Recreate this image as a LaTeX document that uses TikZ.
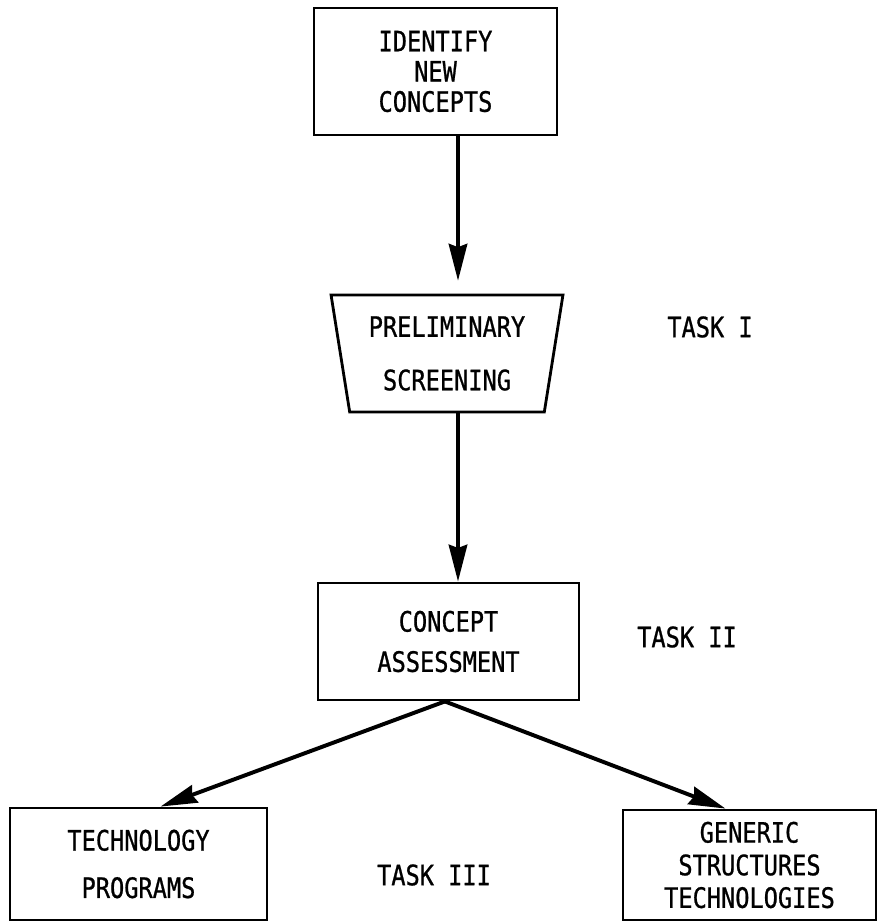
\documentclass[tikz,border=0pt]{standalone}
\usepackage{fontspec}
\setmonofont[FakeStretch=0.84,FakeBold=0.8]{DejaVu Sans Mono}
\usetikzlibrary{arrows.meta,shapes.geometric}
\newcommand{\flowfont}{\ttfamily\fontsize{20}{21.5}\selectfont}
\tikzset{
  box/.style={draw,line width=2pt,align=center,inner sep=0pt,font=\flowfont},
  trap/.style={box,trapezium,trapezium stretches=true,shape border rotate=180,
               trapezium left angle=78.6,trapezium right angle=78.6},
  arr/.style={line width=2.8pt,-{Stealth[length=0.92cm,width=0.46cm,inset=0.08cm]}},
  task/.style={font=\flowfont,inner sep=0pt}
}
\begin{document}
\begin{tikzpicture}[x=0.025cm,y=-0.025cm]
  \useasboundingbox (0,0) rectangle (878,924);
  \node[box,minimum width=6.075cm,minimum height=3.175cm] (ident) at (435.5,71.5)
       {IDENTIFY\\NEW\\CONCEPTS};
  \node[trap,minimum width=5.8cm,minimum height=2.925cm] (screen) at (447,353.5)
       {PRELIMINARY\\[0.58cm]SCREENING};
  \node[box,minimum width=6.525cm,minimum height=2.925cm] (assess) at (448.5,641.5)
       {CONCEPT\\[0.25cm]ASSESSMENT};
  \node[box,minimum width=6.425cm,minimum height=2.8cm] (techprog) at (138.5,864)
       {TECHNOLOGY\\[0.43cm]PROGRAMS};
  \node[box,minimum width=6.325cm,minimum height=2.75cm] (generic) at (749.5,865)
       {GENERIC\\[0.06cm]STRUCTURES\\[0.06cm]TECHNOLOGIES};
  \node[task] (task1) at (710,327) {TASK I};
  \node[task] (task2) at (687,637) {TASK II};
  \node[task] (task3) at (434,875) {TASK III};
  % main flow
  \coordinate (axis) at (458,0);
  \draw[arr,shorten >=0.32cm] (ident.south -| axis) -- (screen.north -| axis);
  \draw[arr] (screen.south -| axis) -- (assess.north -| axis);
  \draw[arr] ([xshift=-0.09cm]assess.south) -- ([xshift=0.55cm]techprog.north);
  \draw[arr] ([xshift=-0.09cm]assess.south) -- ([xshift=-0.6cm]generic.north);
\end{tikzpicture}
\end{document}
